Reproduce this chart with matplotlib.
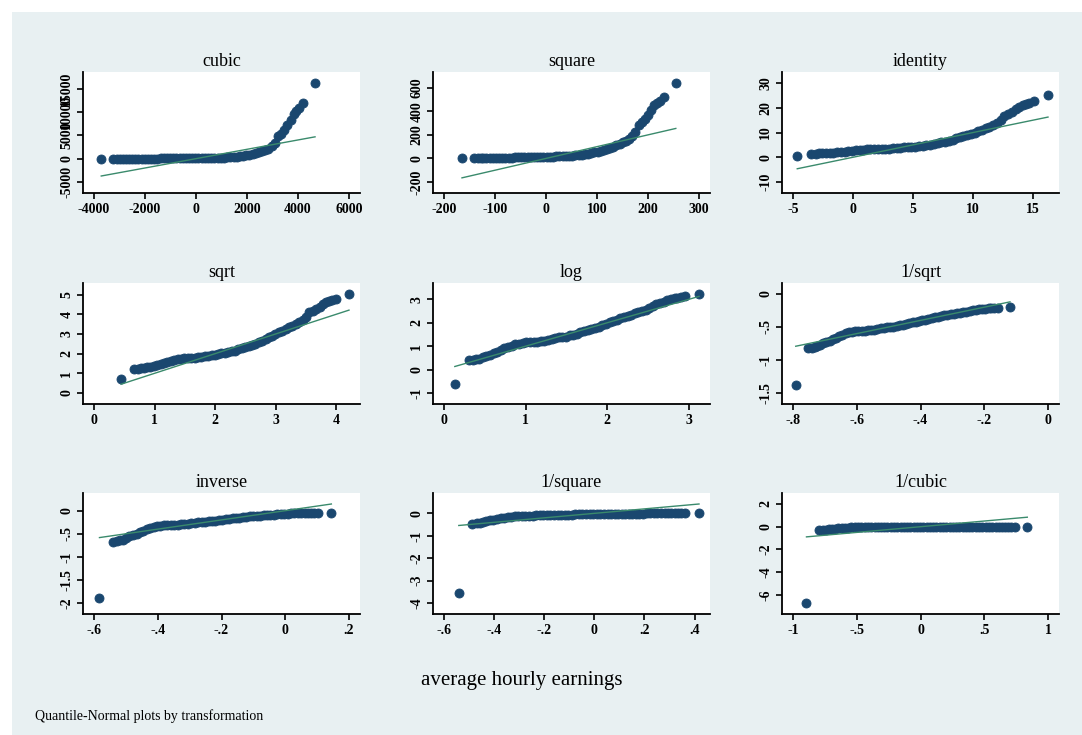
import math
import numpy as np
import matplotlib.pyplot as plt
from matplotlib.patches import Rectangle

# normal quantile positions of the plotted points
normal_z = [-3.10, -2.75, -2.64, -2.55, -2.48, -2.39, -2.30, -2.21, -2.11, -2.02,
            -1.93, -1.84, -1.75, -1.65, -1.56, -1.47, -1.38, -1.29, -1.19, -1.10,
            -1.01, -0.92, -0.83, -0.74, -0.64, -0.55, -0.46, -0.37, -0.28, -0.18,
            -0.09, 0.00, 0.09, 0.18, 0.28, 0.37, 0.46, 0.55, 0.64, 0.74,
            0.83, 0.92, 1.01, 1.10, 1.19, 1.29, 1.38, 1.47, 1.56, 1.65,
            1.75, 1.84, 1.93, 2.02, 2.11, 2.21, 2.30, 2.39, 2.48, 2.55,
            2.64, 2.75, 3.10]

# sorted average hourly earnings at those quantiles
earnings = [0.53, 1.48, 1.50, 1.55, 1.60, 1.70, 1.80, 1.90, 2.00, 2.15,
            2.30, 2.50, 2.65, 2.80, 2.95, 3.05, 3.15, 3.20, 3.20, 3.25,
            3.30, 3.40, 3.45, 3.55, 3.70, 3.80, 3.95, 4.05, 4.10, 4.30,
            4.45, 4.65, 4.90, 5.15, 5.40, 5.70, 6.00, 6.30, 6.65, 7.10,
            7.60, 8.05, 8.45, 8.95, 9.45, 10.0, 10.5, 11.1, 11.7, 12.3,
            12.9, 13.8, 15.0, 16.8, 17.5, 18.3, 19.3, 20.3, 21.2, 21.7,
            22.1, 22.8, 25.3]

titles = ["cubic", "square", "identity", "sqrt", "log", "1/sqrt",
          "inverse", "1/square", "1/cubic"]

x_ticks = [[-4000, -2000, 0, 2000, 4000, 6000],
           [-200, -100, 0, 100, 200, 300],
           [-5, 0, 5, 10, 15],
           [0, 1, 2, 3, 4],
           [0, 1, 2, 3],
           [-0.8, -0.6, -0.4, -0.2, 0],
           [-0.6, -0.4, -0.2, 0, 0.2],
           [-0.6, -0.4, -0.2, 0, 0.2, 0.4],
           [-1, -0.5, 0, 0.5, 1]]
x_labels = [["-4000", "-2000", "0", "2000", "4000", "6000"],
            ["-200", "-100", "0", "100", "200", "300"],
            ["-5", "0", "5", "10", "15"],
            ["0", "1", "2", "3", "4"],
            ["0", "1", "2", "3"],
            ["-.8", "-.6", "-.4", "-.2", "0"],
            ["-.6", "-.4", "-.2", "0", ".2"],
            ["-.6", "-.4", "-.2", "0", ".2", ".4"],
            ["-1", "-.5", "0", ".5", "1"]]
y_ticks = [[-5000, 0, 5000, 10000, 15000],
           [-200, 0, 200, 400, 600],
           [-10, 0, 10, 20, 30],
           [0, 1, 2, 3, 4, 5],
           [-1, 0, 1, 2, 3],
           [-1.5, -1, -0.5, 0],
           [-2, -1.5, -1, -0.5, 0],
           [-4, -3, -2, -1, 0],
           [-6, -4, -2, 0, 2]]
y_labels = [["-5000", "0", "5000", "10000", "15000"],
            ["-200", "0", "200", "400", "600"],
            ["-10", "0", "10", "20", "30"],
            ["0", "1", "2", "3", "4", "5"],
            ["-1", "0", "1", "2", "3"],
            ["-1.5", "-1", "-.5", "0"],
            ["-2", "-1.5", "-1", "-.5", "0"],
            ["-4", "-3", "-2", "-1", "0"],
            ["-6", "-4", "-2", "0", "2"]]

NAVY = "#1a476f"
GREEN = "#3a8a6c"
BG = "#e8f0f2"
SERIF = ["Liberation Serif", "DejaVu Serif"]

e = np.array(earnings)
z = np.array(normal_z)

# ladder of powers
ladder = [e ** 3, e ** 2, e, np.sqrt(e), np.log(e), -1 / np.sqrt(e),
          -1 / e, -1 / e ** 2, -1 / e ** 3]

# probability mass each plotted quantile stands for
mids = (z[1:] + z[:-1]) / 2
cdf = np.array([0.0] + [0.5 * (1 + math.erf(m / math.sqrt(2))) for m in mids] + [1.0])
w = np.diff(cdf)

fig = plt.figure(figsize=(10.82, 7.35), dpi=100)
fig.patch.set_facecolor("white")
fig.patches.append(Rectangle((12 / 1082, 0), 1, (735 - 12) / 735,
                             transform=fig.transFigure, facecolor=BG,
                             edgecolor="none", zorder=-10))

lefts = [83, 433, 782]
tops = [72, 283, 493]
W, H = 277, 121

for i in range(9):
    r, c = divmod(i, 3)
    ax = fig.add_axes([lefts[c] / 1082, 1 - (tops[r] + H) / 735, W / 1082, H / 735])
    y = ladder[i]
    m = np.sum(w * y)
    s = np.sqrt(np.sum(w * (y - m) ** 2))
    x = m + s * z

    ax.plot(x, y, "o", color=NAVY, ms=6.5, mec=NAVY, mew=0.6, zorder=2)
    ax.plot([x.min(), x.max()], [x.min(), x.max()], color=GREEN, lw=1.0, zorder=3)

    xlo, xhi = min(x_ticks[i][0], x.min()), max(x_ticks[i][-1], x.max())
    ylo = min(y_ticks[i][0], y.min(), x.min())
    yhi = max(y_ticks[i][-1], y.max(), x.max())
    px = (xhi - xlo) * 11 / (W - 22)
    py = (yhi - ylo) * 11 / (H - 22)
    ax.set_xlim(xlo - px, xhi + px)
    ax.set_ylim(ylo - py, yhi + py)

    ax.set_xticks(x_ticks[i])
    ax.set_xticklabels(x_labels[i], family=SERIF, fontsize=10, fontweight="bold")
    ax.set_yticks(y_ticks[i])
    ax.set_yticklabels(y_labels[i], family=SERIF, fontsize=10, fontweight="bold",
                       rotation=90, va="center")
    ax.tick_params(direction="out", length=4, width=1.2, pad=3)

    for side in ["top", "right"]:
        ax.spines[side].set_visible(False)
    for side in ["left", "bottom"]:
        ax.spines[side].set_linewidth(1.3)
    ax.set_facecolor("white")
    ax.set_title(titles[i], family=SERIF, fontsize=13, pad=4)

fig.text(522 / 1082, 1 - 681 / 735, "average hourly earnings", family=SERIF,
         fontsize=15, ha="center", va="center")
fig.text(35 / 1082, 1 - 716 / 735, "Quantile-Normal plots by transformation",
         family=SERIF, fontsize=10, ha="left", va="center")

fig.savefig("out.png", dpi=100, facecolor=fig.get_facecolor())
